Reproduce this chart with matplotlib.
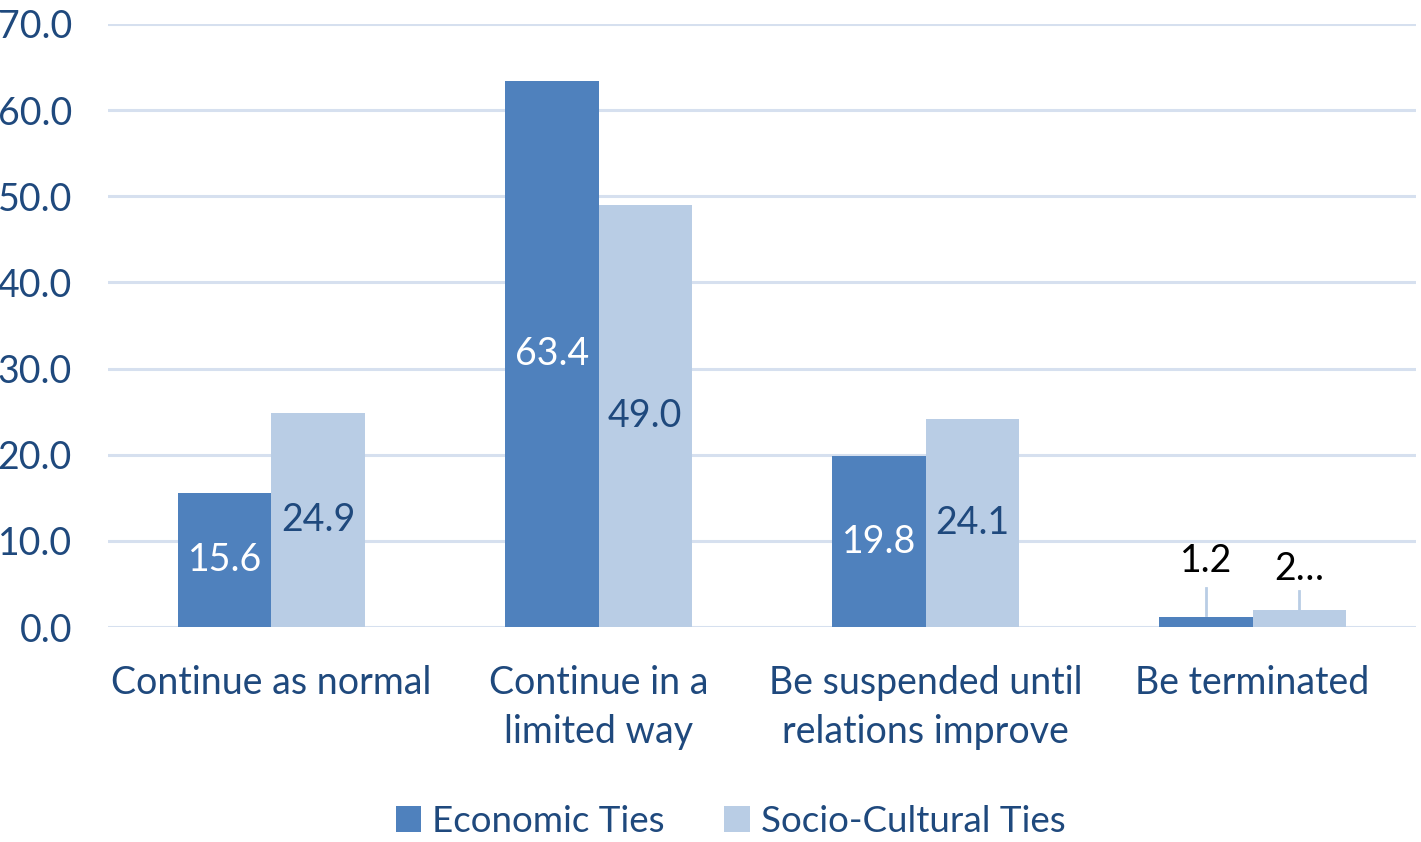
import matplotlib.pyplot as plt
import numpy as np

categories = ["Continue as normal", "Continue in a\nlimited way",
              "Be suspended until\nrelations improve", "Be terminated"]
economic = [15.6, 63.4, 19.8, 1.2]
socio = [24.9, 49.0, 24.1, 2.0]
series_names = ["Economic Ties", "Socio-Cultural Ties"]
yticks = [0, 10, 20, 30, 40, 50, 60, 70]

c_econ = "#4F81BD"
c_socio = "#B9CDE5"
c_text = "#1F497D"
c_grid = "#D6E0EF"

plt.rcParams['font.family'] = ['Lato', 'DejaVu Sans']
fs = 27

fig = plt.figure(figsize=(14.21, 8.42), dpi=100)
ax = fig.add_axes([0.076, 0.2553, 0.9205, 0.7162])

x = np.arange(len(categories))
w = 0.285
b1 = ax.bar(x - w / 2, economic, w, color=c_econ, zorder=3, label=series_names[0])
b2 = ax.bar(x + w / 2, socio, w, color=c_socio, zorder=3, label=series_names[1])

ax.set_ylim(0, 70)
ax.set_xlim(-0.5, len(categories) - 0.5)
ax.set_yticks(yticks)
ax.set_yticklabels([f"{v:.1f}" for v in yticks], fontsize=fs, color=c_text)
ax.set_xticks(x)
ax.set_xticklabels(categories, fontsize=fs, color=c_text, linespacing=1.45)
ax.tick_params(length=0, axis='y', pad=26)
ax.tick_params(length=0, axis='x', pad=27)
ax.grid(axis='y', color=c_grid, linewidth=2.2, zorder=0)
for s in ax.spines.values():
    s.set_visible(False)

# value labels inside the first three groups
for i in range(3):
    ax.text(x[i] - w / 2, economic[i] / 2, f"{economic[i]:.1f}", ha='center', va='center',
            fontsize=fs, color='white', zorder=4)
    ax.text(x[i] + w / 2, socio[i] / 2, f"{socio[i]:.1f}", ha='center', va='center',
            fontsize=fs, color=c_text, zorder=4)

# last group: labels above with leader lines
i = 3
ax.plot([x[i] - w / 2] * 2, [economic[i] + 0.2, 4.5], color=c_socio, lw=2, zorder=4)
ax.text(x[i] - w / 2, 5.6, f"{economic[i]:.1f}", ha='center', va='bottom',
        fontsize=fs, color='black', zorder=4)
ax.plot([x[i] + w / 2] * 2, [socio[i] + 0.1, 4.2], color=c_socio, lw=2, zorder=4)
ax.text(x[i] + w / 2, 4.6, "2…", ha='center', va='bottom',
        fontsize=fs, color='black', zorder=4)

fig.legend(handles=[b1, b2], labels=series_names, loc='lower center',
           bbox_to_anchor=(0.514, -0.034), ncol=2, frameon=False, fontsize=26.5,
           labelcolor=c_text, handlelength=0.7, handleheight=0.7,
           handletextpad=0.3, columnspacing=1.6)

fig.savefig("out.png", dpi=100)
